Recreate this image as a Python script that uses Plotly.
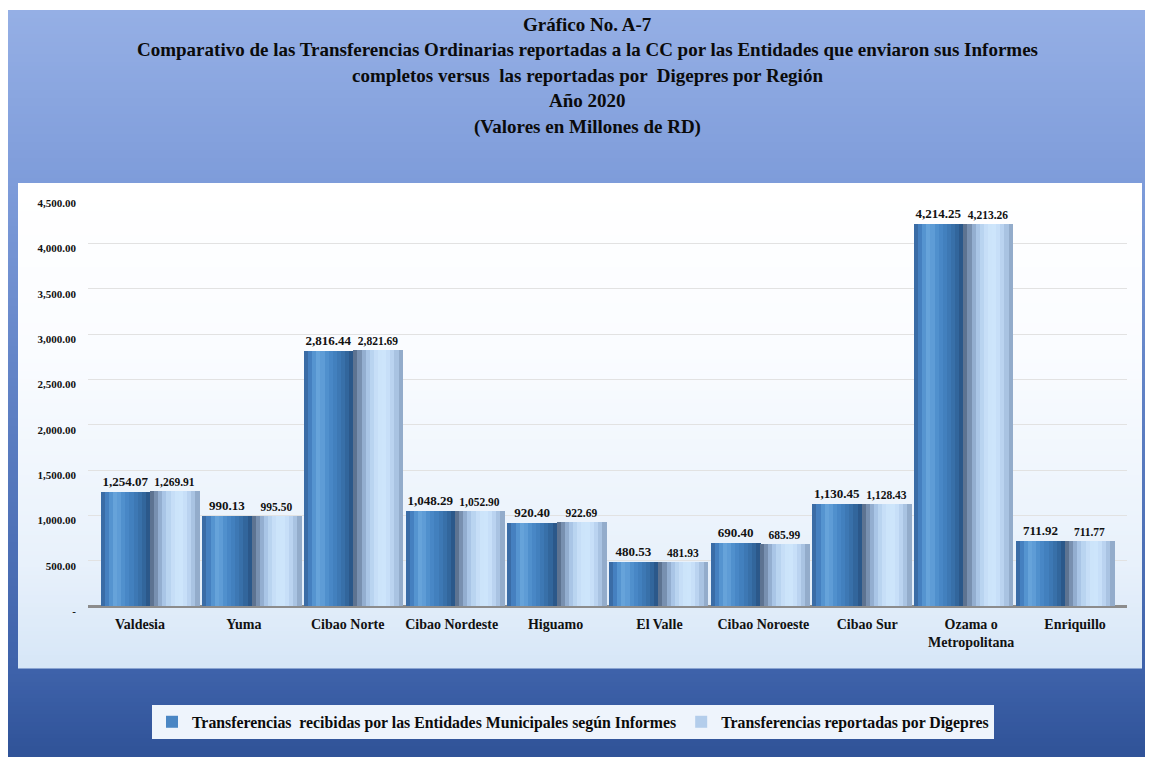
import plotly.graph_objects as go

# ---------------- data ----------------
regions = ["Valdesia", "Yuma", "Cibao Norte", "Cibao Nordeste", "Higuamo", "El Valle",
           "Cibao Noroeste", "Cibao Sur", "Ozama o<br>Metropolitana", "Enriquillo"]
entidades = [1254.07, 990.13, 2816.44, 1048.29, 920.40, 480.53, 690.40, 1130.45, 4214.25, 711.92]
digepres = [1269.91, 995.50, 2821.69, 1052.90, 922.69, 481.93, 685.99, 1128.43, 4213.26, 711.77]
series_names = ["Transferencias  recibidas por las Entidades Municipales según Informes",
                "Transferencias reportadas por Digepres"]
y_tickvals = [0, 500, 1000, 1500, 2000, 2500, 3000, 3500, 4000, 4500]
y_ticktext = ["-", "500.00", "1,000.00", "1,500.00", "2,000.00", "2,500.00",
              "3,000.00", "3,500.00", "4,000.00", "4,500.00"]
title_lines = ["Gráfico No. A-7",
               "Comparativo de las Transferencias Ordinarias reportadas a la CC por las Entidades que enviaron sus Informes",
               "completos versus  las reportadas por  Digepres por Región",
               "Año 2020",
               "(Valores en Millones de RD)"]

# ---------------- geometry helpers (target page pixel -> paper) ----------------
OFF = 8                      # page body margin
W, H = 1153 - OFF, 757 - OFF
L, R, T, B = 88 - OFF, 1127 - OFF, 198 - OFF, 606 - OFF


def px(x):
    return (x - OFF - L) / (R - L)


def py(y):
    return (B - (y - OFF)) / (B - T)


def hex2rgb(h):
    h = h.lstrip('#')
    return tuple(int(h[i:i + 2], 16) for i in (0, 2, 4))


def lerp_stops(stops, t):
    for (p0, c0), (p1, c1) in zip(stops[:-1], stops[1:]):
        if p0 <= t <= p1:
            f = 0 if p1 == p0 else (t - p0) / (p1 - p0)
            a, b = hex2rgb(c0), hex2rgb(c1)
            return 'rgb(%d,%d,%d)' % tuple(round(a[i] + (b[i] - a[i]) * f) for i in range(3))
    return stops[-1][1]


shapes = []
# outer blue gradient panel
outer_stops = [(10, '#95AFE5'), (180, '#7E9CDA'), (420, '#5C7EC2'), (670, '#3E62AA'), (757, '#2F5297')]
step = 4
y = 10
while y < 757:
    y2 = min(y + step, 757)
    shapes.append(dict(type='rect', xref='paper', yref='paper', layer='below',
                       x0=px(5), x1=px(1160), y0=py(y2 + 0.5), y1=py(y),
                       fillcolor=lerp_stops(outer_stops, y), line_width=0))
    y = y2
# inner light panel
inner_stops = [(183, '#FFFFFF'), (350, '#FAFCFF'), (560, '#E8F1FB'), (668, '#D6E6F7')]
y = 183
while y < 668:
    y2 = min(y + step, 668)
    shapes.append(dict(type='rect', xref='paper', yref='paper', layer='below',
                       x0=px(18), x1=px(1142), y0=py(y2 + 0.5), y1=py(y),
                       fillcolor=lerp_stops(inner_stops, y), line_width=0))
    y = y2

# ---------------- bars ----------------
dark_profile = ['#3A6CA6', '#4580C0', '#5594D0', '#66A3DA', '#5E9CD6', '#5090CD', '#4887C6',
                '#4280BE', '#3D78B4', '#3870A9', '#32669C', '#2B588A']
light_profile = ['#5D7391', '#7890B0', '#93AED0', '#A9C5E6', '#B9D4F0', '#C6DEF7', '#CCE4FA',
                 '#CDE5FB', '#C7DFF8', '#BAD3F0', '#A9C3E2', '#93ACCB']
N = len(dark_profile)
bw = 0.485
sw = bw / N

fig = go.Figure()
series = [(entidades, dark_profile, -bw, '#4A86C4', 13),
          (digepres, light_profile, 0.0, '#B3CDEB', 11.5)]
for k, (vals, prof, off, mid, fs) in enumerate(series):
    fig.add_trace(go.Bar(
        x=regions, y=vals, name='<b>' + series_names[k] + '</b>', width=bw, offset=off,
        marker=dict(color=mid, line_width=0),
        texttemplate='<b>%{y:,.2f}</b>', textposition='outside', cliponaxis=False,
        textfont=dict(family='Liberation Serif', size=fs, color='#111111'),
        hoverinfo='skip'))
    for i in range(N):
        fig.add_trace(go.Bar(
            x=regions, y=vals, width=sw * 1.15, offset=off + i * sw,
            marker=dict(color=prof[i], line_width=0), showlegend=False, hoverinfo='skip'))

# invisible trace carrying the category label axis (labels spaced like the original)
fig.add_trace(go.Scatter(x=regions, y=entidades, xaxis='x2', mode='markers',
                         marker=dict(opacity=0, size=1), showlegend=False, hoverinfo='skip'))

# ---------------- title annotations ----------------
title_y = [25, 50, 76, 101, 127]
annotations = []
for line, ty in zip(title_lines, title_y):
    annotations.append(dict(text='<b>' + line + '</b>', xref='paper', yref='paper',
                            x=px(587), y=py(ty), xanchor='center', yanchor='middle',
                            showarrow=False,
                            font=dict(family='Liberation Serif', size=19, color='#0B0B0B')))

fig.update_layout(
    width=W, height=H, autosize=False,
    margin=dict(l=L, r=W - R, t=T, b=H - B, pad=0),
    paper_bgcolor='white', plot_bgcolor='rgba(0,0,0,0)',
    barmode='overlay', bargap=0,
    shapes=shapes, annotations=annotations,
    showlegend=True,
    legend=dict(orientation='h', x=px(573), xanchor='center', y=py(705), yanchor='top',
                bgcolor='#EEF4FC', borderwidth=0,
                font=dict(family='Liberation Serif', size=15.8, color='#0B0B0B'),
                traceorder='normal'),
    font=dict(family='Liberation Serif', color='#111111'),
    xaxis=dict(type='category', categoryorder='array', categoryarray=regions,
               range=[-0.61, 9.61], showgrid=False, showline=False, ticks='',
               showticklabels=False),
    xaxis2=dict(type='category', categoryorder='array', categoryarray=regions,
                range=[-0.5, 9.5], overlaying='x', anchor='y', side='bottom',
                showgrid=False, showline=False, ticks='', zeroline=False,
                tickvals=regions, ticktext=['<b>' + r + '</b>' for r in regions],
                tickfont=dict(family='Liberation Serif', size=14, color='#111111'),
                ticklabelstandoff=8),
    yaxis=dict(range=[0, 4500], tickvals=y_tickvals,
               ticktext=['<b>' + t + '</b>' for t in y_ticktext],
               showgrid=True, gridcolor='#E2E2E2', gridwidth=1,
               zeroline=True, zerolinecolor='#8C8C8C', zerolinewidth=3,
               showline=False, ticks='',
               tickfont=dict(family='Liberation Serif', size=11, color='#111111'),
               ticklabelstandoff=11, ticklabelshift=5),
)

fig.write_html("out.html")
